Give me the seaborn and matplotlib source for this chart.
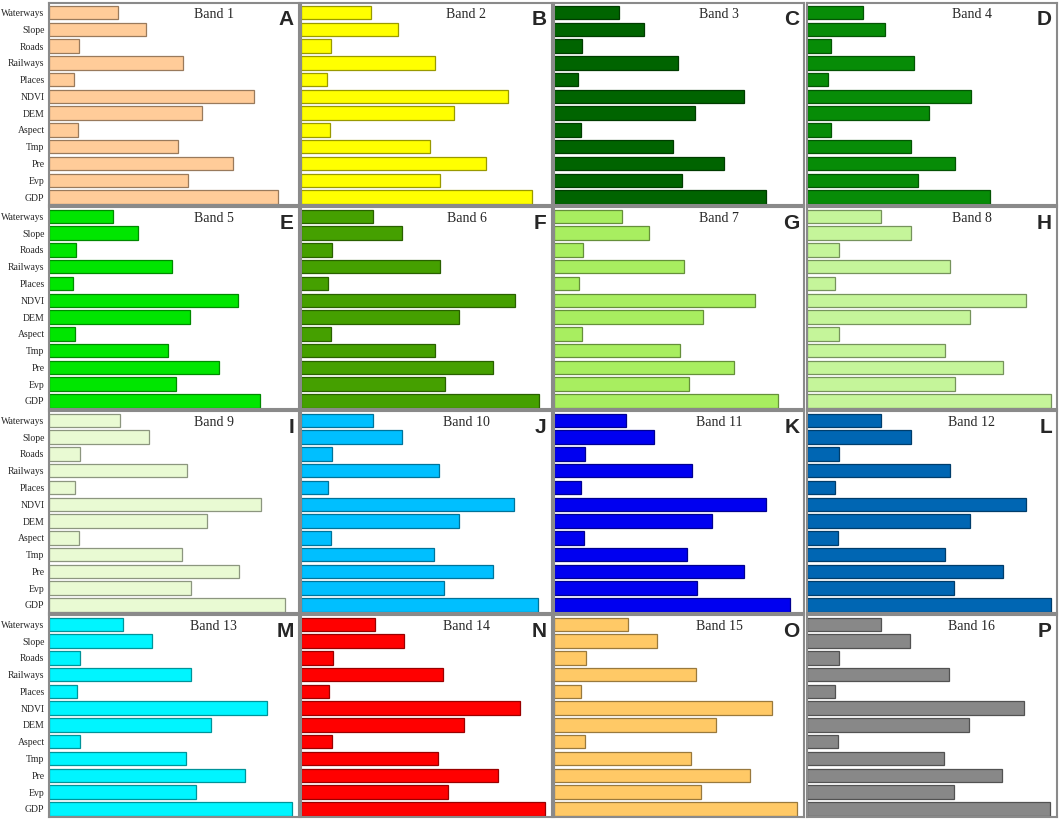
import matplotlib
matplotlib.use("Agg")
import matplotlib.pyplot as plt
import matplotlib.colors as mcolors
import numpy as np
import pandas as pd
import seaborn as sns

# Factor names, top to bottom
features = ["Waterways", "Slope", "Roads", "Railways", "Places", "NDVI",
            "DEM", "Aspect", "Tmp", "Pre", "Evp", "GDP"]

band_names = ["Band %d" % i for i in range(1, 17)]
band_letters = list("ABCDEFGHIJKLMNOP")
band_colors = ["#FFCC99", "#FFFF00", "#006400", "#078C07",
               "#00E600", "#45A000", "#A8EE60", "#C5F59A",
               "#E9FAD3", "#00BFFF", "#0000F0", "#0066B3",
               "#00F5FF", "#FF0000", "#FFC966", "#888888"]

# Importance values (same order as features)
band01 = [69, 97, 30, 134, 25, 205, 153, 29, 129, 184, 139, 229]
band02 = [70, 97, 30, 134, 26, 206, 153, 29, 129, 184, 139, 230]
band03 = [65, 90, 28, 124, 24, 190, 141, 27, 119, 170, 128, 212]
band04 = [56, 78, 24, 107, 21, 164, 122, 24, 104, 148, 111, 183]
band05 = [64, 89, 27, 123, 24, 189, 141, 26, 119, 170, 127, 211]
band06 = [72, 101, 31, 139, 27, 213, 158, 30, 134, 191, 144, 237]
band07 = [68, 95, 29, 130, 25, 201, 149, 28, 126, 180, 135, 224]
band08 = [74, 104, 32, 143, 28, 219, 163, 32, 138, 196, 148, 244]
band09 = [71, 100, 31, 138, 26, 212, 158, 30, 133, 190, 142, 236]
band10 = [72, 101, 31, 138, 27, 212, 158, 30, 133, 191, 143, 236]
band11 = [72, 100, 31, 138, 27, 212, 158, 30, 133, 190, 143, 236]
band12 = [74, 104, 32, 143, 28, 219, 163, 31, 138, 196, 147, 244]
band13 = [74, 103, 31, 142, 28, 218, 162, 31, 137, 196, 147, 243]
band14 = [74, 103, 32, 142, 28, 218, 163, 31, 137, 196, 147, 243]
band15 = [74, 103, 32, 142, 27, 218, 162, 31, 137, 196, 147, 243]
band16 = [74, 103, 32, 142, 28, 217, 162, 31, 137, 195, 147, 243]

bands = [band01, band02, band03, band04, band05, band06, band07, band08,
         band09, band10, band11, band12, band13, band14, band15, band16]

x_max = 250

sns.set_style("white")
plt.rcParams["font.family"] = ["Liberation Serif", "DejaVu Serif"]


def darker(color, amount=0.4):
    """Return a darker shade of a colour for the bar outline."""
    rgb = np.array(mcolors.to_rgb(color))
    return tuple(rgb * (1 - amount))


fig, axes = plt.subplots(4, 4, figsize=(10.59, 8.19), dpi=100)
fig.subplots_adjust(left=0.046, right=0.998, top=0.996, bottom=0.003,
                    wspace=0.01, hspace=0.012)

for i, ax in enumerate(axes.flat):
    df = pd.DataFrame({"feature": features, "value": bands[i]})
    sns.barplot(
        data=df, x="value", y="feature", orient="h",
        color=band_colors[i], saturation=1, width=0.8,
        edgecolor=darker(band_colors[i]), linewidth=0.9,
        ax=ax
    )
    ax.set_xlim(0, x_max)
    ax.set_ylim(11.46, -0.55)
    ax.set_xlabel("")
    ax.set_ylabel("")
    ax.set_xticks([])
    for sp in ax.spines.values():
        sp.set_color("#8a8a8a")
        sp.set_linewidth(1.5)
    if i % 4 == 0:
        ax.tick_params(axis="y", direction="out", length=2, width=0.6,
                       labelsize=7, pad=1)
    else:
        ax.tick_params(axis="y", direction="in", length=2, width=0.6,
                       labelleft=False)
    # panel title and letter
    ax.text(0.66, 0.945, band_names[i], transform=ax.transAxes,
            ha="center", va="center", fontsize=10)
    ax.text(0.98, 0.965, band_letters[i], transform=ax.transAxes,
            ha="right", va="top", fontsize=15, fontweight="bold",
            family=["Liberation Sans", "DejaVu Sans"])

fig.savefig("out.png", dpi=100, facecolor="white")
